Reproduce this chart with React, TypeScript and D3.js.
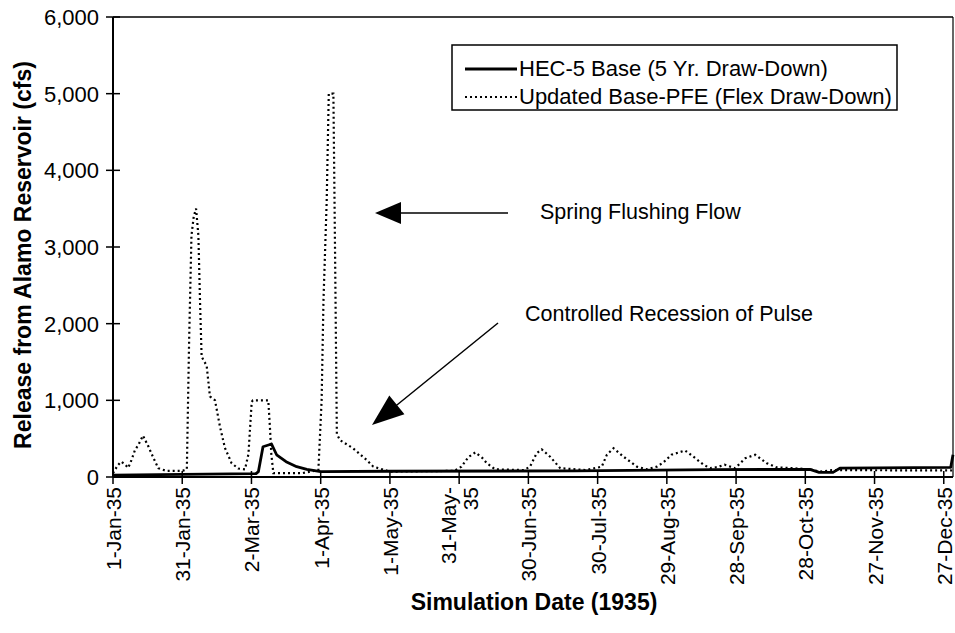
import React from 'react';
import * as d3 from 'd3';

// x ticks every 30 days from 1-Jan-1935
const xTickDays = [0, 30, 60, 90, 120, 150, 180, 210, 240, 270, 300, 330, 360];
const xTickLabels = [
  '1-Jan-35', '31-Jan-35', '2-Mar-35', '1-Apr-35', '1-May-35', '31-May-35', '30-Jun-35',
  '30-Jul-35', '29-Aug-35', '28-Sep-35', '28-Oct-35', '27-Nov-35', '27-Dec-35',
];
const yTicks = [0, 1000, 2000, 3000, 4000, 5000, 6000];

const seriesNames = ['HEC-5 Base (5 Yr. Draw-Down)', 'Updated Base-PFE (Flex Draw-Down)'];

// HEC-5 Base: day of year / release (cfs)
const baseDays = [0, 30, 62, 63, 65, 68.7, 70.9, 75, 79.6, 84, 90, 120, 200, 260, 302, 306, 312, 315, 363, 364];
const baseValues = [25, 35, 45, 70, 395, 430, 290, 200, 135, 100, 70, 75, 80, 95, 100, 60, 60, 115, 125, 290];

// Updated Base-PFE
const flexDays = [
  0, 2, 3.5, 5, 6.6, 8, 9.5, 11, 13, 15.3, 17.5, 19.6, 23, 30, 32, 33, 34, 35, 36, 37, 37.7, 38.4,
  40.6, 42, 44.2, 46.4, 48.5, 51.4, 54.3, 57.2, 58.7, 60.1, 60.6, 67.3, 68, 68.6, 69.5, 82, 89,
  90.4, 91.2, 92.6, 93.5, 95.5, 96.2, 97, 98.4, 104, 110, 112.8, 120, 148, 151, 154, 157, 160,
  162, 165.6, 178, 180.7, 183.6, 185.8, 189.4, 193.8, 205, 211.8, 214, 216.9, 221.2, 227, 231.3,
  235.7, 238.5, 242, 247.9, 251.5, 255.9, 258.8, 262, 265, 269.6, 274, 278.3, 283.3, 287.6, 294.8,
  302, 306.4, 312, 364,
];
const flexValues = [
  50, 150, 200, 170, 120, 220, 350, 420, 540, 400, 250, 115, 80, 80, 100, 1800, 3150, 3400, 3500,
  3150, 2300, 1570, 1450, 1050, 1000, 650, 380, 180, 110, 100, 300, 980, 1000, 1000, 650, 300, 50,
  50, 90, 1000, 2300, 3600, 5000, 5000, 3000, 560, 480, 375, 220, 135, 70, 80, 135, 260, 320, 250,
  180, 100, 90, 135, 310, 360, 265, 115, 90, 135, 290, 375, 265, 135, 100, 135, 190, 290, 345, 265,
  160, 115, 130, 160, 115, 245, 290, 180, 125, 115, 100, 70, 90, 85,
];

const W = 955;
const H = 633;
const left = 113;
const right = 953;
const top = 17;
const bottom = 477;
const FONT = '"Liberation Sans", Arial, sans-serif';

const wrapped: Record<string, string[]> = { '31-May-35': ['31-May-', '35'] };

const App: React.FC = () => {
  const x = d3.scaleLinear().domain([0, 364]).range([left, right]);
  const y = d3.scaleLinear().domain([0, 6000]).range([bottom, top]);

  const line = d3
    .line<[number, number]>()
    .x((d) => x(d[0]))
    .y((d) => y(d[1]));

  const basePath = line(baseDays.map((d, i) => [d, baseValues[i]] as [number, number])) || '';
  const flexPath = line(flexDays.map((d, i) => [d, flexValues[i]] as [number, number])) || '';

  // arrow head polygon pointing from (x1,y1) to tip (x2,y2)
  const arrowHead = (x1: number, y1: number, x2: number, y2: number, len: number, half: number) => {
    const a = Math.atan2(y2 - y1, x2 - x1);
    const bx = x2 - len * Math.cos(a);
    const by = y2 - len * Math.sin(a);
    const px = -Math.sin(a) * half;
    const py = Math.cos(a) * half;
    return `${x2},${y2} ${bx + px},${by + py} ${bx - px},${by - py}`;
  };

  return (
    <svg
      width={W}
      height={H}
      style={{ position: 'absolute', left: 0, top: 0, background: '#fff' }}
      fontFamily={FONT}
    >
      <rect x={0} y={0} width={W} height={H} fill="#fff" />

      {/* plot frame */}
      <line x1={left} x2={right} y1={top} y2={top} stroke="#000" strokeWidth={1.5} />
      <line x1={right} x2={right} y1={top} y2={bottom} stroke="#000" strokeWidth={1.2} />

      {/* series */}
      <path d={flexPath} fill="none" stroke="#000" strokeWidth={2.2} strokeDasharray="2,3" />
      <path d={basePath} fill="none" stroke="#000" strokeWidth={2.8} strokeLinejoin="round" />

      {/* y axis */}
      <line x1={left} x2={left} y1={top} y2={bottom} stroke="#000" strokeWidth={2} />
      {yTicks.map((t) => (
        <g key={t}>
          <line x1={left - 7} x2={left + 7} y1={y(t)} y2={y(t)} stroke="#000" strokeWidth={1.5} />
          <text x={99} y={y(t)} dy="0.36em" textAnchor="end" fontSize={22}>
            {d3.format(',')(t)}
          </text>
        </g>
      ))}

      {/* x axis */}
      <line x1={left} x2={right} y1={bottom} y2={bottom} stroke="#000" strokeWidth={2} />
      {xTickDays.map((d, i) => {
        const label = xTickLabels[i];
        const lines = wrapped[label];
        return (
          <g key={label}>
            <line x1={x(d)} x2={x(d)} y1={bottom - 6} y2={bottom + 7} stroke="#000" strokeWidth={1.5} />
            <text
              transform={`translate(${x(d)},${bottom + 10}) rotate(-90)`}
              textAnchor="end"
              fontSize={21}
            >
              {lines ? (
                <>
                  <tspan x={0} y={-3}>{lines[0]}</tspan>
                  <tspan x={0} y={19}>{lines[1]}</tspan>
                </>
              ) : (
                <tspan x={0} y={8}>{label}</tspan>
              )}
            </text>
          </g>
        );
      })}

      {/* axis titles */}
      <text x={534} y={610} textAnchor="middle" fontSize={23} fontWeight="bold">
        Simulation Date (1935)
      </text>
      <text
        transform={`translate(31,${(top + bottom) / 2 + 8}) rotate(-90)`}
        textAnchor="middle"
        fontSize={23}
        fontWeight="bold"
      >
        Release from Alamo Reservoir (cfs)
      </text>

      {/* legend */}
      <rect x={452} y={45} width={445} height={65} fill="#fff" stroke="#000" strokeWidth={1.5} />
      <line x1={465} x2={517} y1={69} y2={69} stroke="#000" strokeWidth={2.8} />
      <text x={519} y={76} fontSize={22}>{seriesNames[0]}</text>
      <line x1={465} x2={517} y1={97} y2={97} stroke="#000" strokeWidth={2.2} strokeDasharray="2,3" />
      <text x={519} y={104} fontSize={22}>{seriesNames[1]}</text>

      {/* annotations */}
      <text x={540} y={219} fontSize={21.5}>Spring Flushing Flow</text>
      <line x1={508} y1={213} x2={398} y2={213} stroke="#000" strokeWidth={1.5} />
      <polygon points={arrowHead(508, 213, 375, 213, 26, 11)} fill="#000" />

      <text x={525} y={321} fontSize={21.5}>Controlled Recession of Pulse</text>
      <line x1={498} y1={323} x2={392} y2={409} stroke="#000" strokeWidth={1.5} />
      <polygon points={arrowHead(498, 323, 372, 425, 32, 12)} fill="#000" />
    </svg>
  );
};

export default App;
